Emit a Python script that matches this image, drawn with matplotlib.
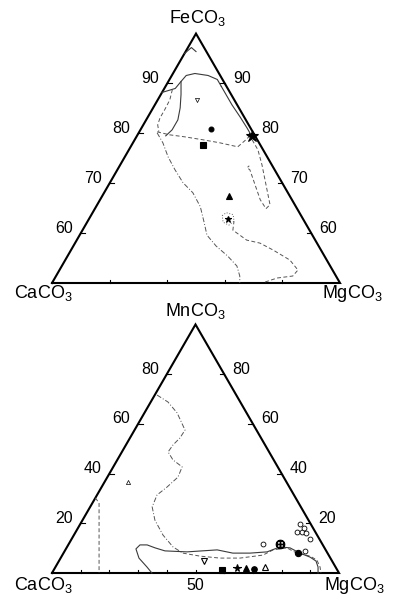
import numpy as np
import matplotlib
matplotlib.use("Agg")
import matplotlib.pyplot as plt

plt.rcParams['font.family'] = ['Liberation Sans', 'DejaVu Sans']
plt.rcParams['mathtext.fontset'] = 'custom'
plt.rcParams['mathtext.rm'] = 'Liberation Sans'
plt.rcParams['mathtext.it'] = 'Liberation Sans'

S3 = np.sqrt(3) / 2

# ---------------- DATA: upper diagram (FeCO3 - CaCO3 - MgCO3, FeCO3 50-100 %) ----------------
top_side_ticks = [90, 80, 70, 60]
top_base_ticks = [10, 20, 30, 40]

# field boundaries (FeCO3 %, MgCO3 %)
t_solid_upper_fe = [88.2, 89.0, 90.4, 91.6, 92.0, 91.6, 90.8, 89.4]
t_solid_upper_mg = [0.0, 1.9, 2.2, 2.5, 3.8, 6.3, 8.3, 9.7]
t_solid_right_fe = [89.4, 87.8, 85.7, 83.3, 81.1, 79.7]
t_solid_right_mg = [9.7, 11.3, 13.4, 16.0, 18.3, 19.7]
t_solid_left_fe = [90.4, 87.8, 85.1, 82.7, 80.7, 79.5]
t_solid_left_mg = [2.2, 3.5, 4.7, 5.5, 5.5, 5.0]
t_dash_mid_fe = [80.3, 79.7, 79.3, 78.7, 78.1, 77.3, 78.7, 79.5]
t_dash_mid_mg = [3.1, 5.6, 8.4, 11.9, 15.1, 18.6, 19.3, 19.6]
t_dash_left_fe = [88.8, 86.7, 84.7, 83.1, 81.7, 80.3]
t_dash_left_mg = [1.5, 2.1, 2.2, 2.2, 2.5, 3.4]
t_long_fe = [80.1, 78.1, 75.3, 72.7, 70.1, 68.1, 65.3, 62.2, 59.6, 57.4, 55.4, 53.4, 51.4, 50.0]
t_long_mg = [3.2, 5.2, 7.5, 10.0, 12.7, 15.4, 18.1, 20.3, 22.1, 24.8, 27.8, 30.4, 31.9, 32.6]
t_lowright_fe = [50.2, 51.0, 51.4, 52.6, 54.6, 56.6, 58.0, 58.6, 60.6, 62.4]
t_lowright_mg = [36.9, 38.6, 41.1, 41.4, 39.0, 35.1, 32.1, 29.5, 26.1, 25.4]
t_loop_star_fe = [63.5, 64.1, 63.7, 62.4, 61.6, 62.2, 63.5]
t_loop_star_mg = [22.8, 23.2, 24.6, 25.4, 24.9, 23.6, 22.8]
t_loop_right_fe = [78.7, 76.7, 73.7, 69.7, 65.7, 64.9, 66.7, 69.7, 72.7, 73.1, 73.5]
t_loop_right_mg = [20.4, 22.4, 24.6, 27.3, 30.0, 29.7, 27.8, 25.4, 23.0, 22.3, 22.5]
t_apex_fe = [96.0, 97.2, 96.4]
t_apex_mg = [0.0, 0.6, 1.8]

# samples (FeCO3 %, MgCO3 %)
t_circle = (80.8, 12.2)
t_square = (77.6, 12.4)
t_star_big = (79.4, 20.0)
t_triangle = (67.4, 22.0)
t_star_small = (62.8, 24.2)
t_vtri = (86.6, 6.9)

# ---------------- DATA: lower diagram (MnCO3 - CaCO3 - MgCO3) ----------------
bot_side_ticks = [80, 60, 40, 20]
bot_base_ticks = [10, 20, 30, 40, 50, 60, 70, 80, 90]

b_dashdot_mn = [71.6, 68.8, 64.4, 57.5, 54.3, 51.5, 48.7, 45.5, 42.7, 38.6, 34.6, 31.4, 26.6,
                21.3, 15.3, 10.5, 8.0]
b_dashdot_mg = [0.8, 6.0, 11.4, 17.6, 17.4, 16.4, 16.1, 19.4, 24.0, 24.6, 22.8, 20.9, 21.6,
                25.2, 31.0, 36.9, 41.6]
b_dash_mn = [8.0, 6.8, 6.0, 6.0, 7.2, 9.3, 10.1, 8.0, 6.8, 5.2, 2.4, 0.0]
b_dash_mg = [41.6, 48.1, 55.5, 62.5, 69.9, 72.4, 76.8, 81.3, 86.5, 89.7, 92.2, 93.7]
b_solid_mn = [0.0, 2.4, 6.0, 9.7, 11.3, 11.3, 10.1, 8.9, 8.5, 9.3, 8.0, 8.0, 8.5, 10.5, 10.1,
              8.0, 6.4, 4.8, 2.4, 0.0]
b_solid_mg = [34.8, 31.9, 27.3, 24.4, 25.0, 27.5, 30.9, 34.9, 42.8, 52.9, 59.0, 65.0, 70.7,
              74.2, 77.9, 82.4, 86.7, 89.6, 91.5, 92.7]
b_vert_mn = [30.2, 28.2, 0.0]
b_vert_mg = [0.0, 2.3, 16.4]

# samples (MnCO3 %, MgCO3 %)
b_square = (1.3, 58.6)
b_star = (2.0, 63.4)
b_triangle = (2.0, 66.6)
b_circle = (1.6, 69.6)
b_open_tri = (2.4, 73.0)
b_vtri = (4.8, 50.5)
b_small_tri = (36.6, 8.2)
b_open_circ_mn = [19.7, 16.5, 16.5, 16.1, 13.7, 18.1, 8.9, 11.7]
b_open_circ_mg = [76.5, 77.1, 78.9, 80.5, 83.1, 78.7, 83.7, 67.7]
b_cross_circ = (11.7, 73.6)
b_dark_circ = (8.0, 81.7)


def tern(top, mg):
    top = np.asarray(top, float) / 100.0
    mg = np.asarray(mg, float) / 100.0
    return mg + top / 2.0, top * S3


fig = plt.figure(figsize=(3.93, 5.95), dpi=100)
W, H = 393.0, 595.0
ax1 = fig.add_axes([52 / W, (H - 283) / H, 288 / W, 288 * S3 / H])
ax1.set_xlim(0.25, 0.75)
ax1.set_ylim(S3 / 2, S3)
ax2 = fig.add_axes([52 / W, (H - 573) / H, 287 / W, 287 * S3 / H])
ax2.set_xlim(0, 1)
ax2.set_ylim(0, S3)
for ax in (ax1, ax2):
    ax.set_axis_off()

LC = '#555555'
dashed = dict(color=LC, lw=0.7, dashes=(4, 2.5))
dashdot = dict(color=LC, lw=0.7, dashes=(5, 2, 1, 2))
dotted = dict(color='#666666', lw=0.7, dashes=(1, 1.8))
solid = dict(color='#3a3a3a', lw=0.8)
tfs = 13
nfs = 11.5

# ---------- upper triangle ----------
vx, vy = tern([50, 100, 50, 50], [0, 0, 50, 0])
ax1.plot(vx, vy, color='black', lw=1.5, solid_joinstyle='miter', clip_on=False)

for fe in top_side_ticks:
    lx, ly = tern(fe, 0)
    rx, ry = tern(fe, 100 - fe)
    ax1.plot([lx, lx + 0.008], [ly, ly], color='black', lw=0.8, clip_on=False)
    ax1.plot([rx, rx - 0.008], [ry, ry], color='black', lw=0.8, clip_on=False)
    ax1.annotate(str(fe), (lx, ly), xytext=(-17, 5), textcoords='offset pixels',
                 ha='center', va='center', fontsize=nfs)
    ax1.annotate(str(fe), (rx, ry), xytext=(17, 5), textcoords='offset pixels',
                 ha='center', va='center', fontsize=nfs)
for mg in top_base_ticks:
    bx, by = tern(50, mg)
    ax1.plot([bx, bx], [by, by + 0.006], color='black', lw=0.8, clip_on=False)

for fe, mg, st in [(t_solid_upper_fe, t_solid_upper_mg, solid),
                   (t_solid_right_fe, t_solid_right_mg, solid),
                   (t_solid_left_fe, t_solid_left_mg, solid),
                   (t_dash_mid_fe, t_dash_mid_mg, dashed),
                   (t_dash_left_fe, t_dash_left_mg, dashed),
                   (t_long_fe, t_long_mg, dashdot),
                   (t_lowright_fe, t_lowright_mg, dashed),
                   (t_loop_star_fe, t_loop_star_mg, dotted),
                   (t_loop_right_fe, t_loop_right_mg, dashed),
                   (t_apex_fe, t_apex_mg, solid)]:
    x, y = tern(fe, mg)
    ax1.plot(x, y, clip_on=False, **st)

def mk(ax, pt, marker, size, fill=True, mew=0.8):
    x, y = tern(pt[0], pt[1])
    ax.plot([x], [y], marker=marker, ms=size, mfc='black' if fill else 'white',
            mec='black', mew=mew, ls='none', clip_on=False, zorder=5)

mk(ax1, t_circle, 'o', 3.5)
mk(ax1, t_square, 's', 4)
mk(ax1, t_star_big, '*', 9)
mk(ax1, t_triangle, '^', 4)
mk(ax1, t_star_small, '*', 5)
mk(ax1, t_vtri, 'v', 3, fill=False, mew=0.5)

lx, ly = tern(100, 0)
ax1.annotate(r'FeCO$_3$', (lx, ly), xytext=(1, 11), textcoords='offset pixels',
             ha='center', va='baseline', fontsize=tfs)
lx, ly = tern(50, 0)
ax1.annotate(r'CaCO$_3$', (lx, ly), xytext=(-9, -15), textcoords='offset pixels',
             ha='center', va='baseline', fontsize=tfs)
lx, ly = tern(50, 50)
ax1.annotate(r'MgCO$_3$', (lx, ly), xytext=(12, -15), textcoords='offset pixels',
             ha='center', va='baseline', fontsize=tfs)

# ---------- lower triangle ----------
vx, vy = tern([0, 100, 0, 0], [0, 0, 100, 0])
ax2.plot(vx, vy, color='black', lw=1.5, solid_joinstyle='miter', clip_on=False)

for mn in bot_side_ticks:
    lx, ly = tern(mn, 0)
    rx, ry = tern(mn, 100 - mn)
    ax2.plot([lx, lx + 0.016], [ly, ly], color='black', lw=0.8, clip_on=False)
    ax2.plot([rx, rx - 0.016], [ry, ry], color='black', lw=0.8, clip_on=False)
    ax2.annotate(str(mn), (lx, ly), xytext=(-17, 5), textcoords='offset pixels',
                 ha='center', va='center', fontsize=nfs)
    ax2.annotate(str(mn), (rx, ry), xytext=(17, 5), textcoords='offset pixels',
                 ha='center', va='center', fontsize=nfs)
for mg in bot_base_ticks:
    bx, by = tern(0, mg)
    ax2.plot([bx, bx], [by, by + 0.012], color='black', lw=0.8, clip_on=False)

for mn, mg, st in [(b_dashdot_mn, b_dashdot_mg, dashdot),
                   (b_dash_mn, b_dash_mg, dashed),
                   (b_solid_mn, b_solid_mg, solid),
                   (b_vert_mn, b_vert_mg, dashed)]:
    x, y = tern(mn, mg)
    ax2.plot(x, y, clip_on=False, **st)

mk(ax2, b_square, 's', 5)
mk(ax2, b_star, '*', 5.5)
mk(ax2, b_triangle, '^', 4.5)
mk(ax2, b_circle, 'o', 4)
mk(ax2, b_open_tri, '^', 4.5, fill=False)
mk(ax2, b_vtri, 'v', 4.5, fill=False)
mk(ax2, b_small_tri, '^', 3, fill=False, mew=0.5)
x, y = tern(b_open_circ_mn, b_open_circ_mg)
ax2.plot(x, y, 'o', ms=3.5, mfc='white', mec='black', mew=0.6, ls='none', clip_on=False, zorder=5)
x, y = tern(*b_cross_circ)
ax2.plot([x], [y], marker='$\\oplus$', ms=6, color='black', ls='none', zorder=5)
mk(ax2, b_dark_circ, 'o', 4.5, fill=True)

lx, ly = tern(100, 0)
ax2.annotate(r'MnCO$_3$', (lx, ly), xytext=(0, 8), textcoords='offset pixels',
             ha='center', va='baseline', fontsize=tfs)
lx, ly = tern(0, 0)
ax2.annotate(r'CaCO$_3$', (lx, ly), xytext=(-9, -17), textcoords='offset pixels',
             ha='center', va='baseline', fontsize=tfs)
lx, ly = tern(0, 50)
ax2.annotate('50', (lx, ly), xytext=(0, -17), textcoords='offset pixels',
             ha='center', va='baseline', fontsize=nfs)
lx, ly = tern(0, 100)
ax2.annotate(r'MgCO$_3$', (lx, ly), xytext=(15, -17), textcoords='offset pixels',
             ha='center', va='baseline', fontsize=tfs)

fig.savefig('out.png', dpi=100, facecolor='white')
